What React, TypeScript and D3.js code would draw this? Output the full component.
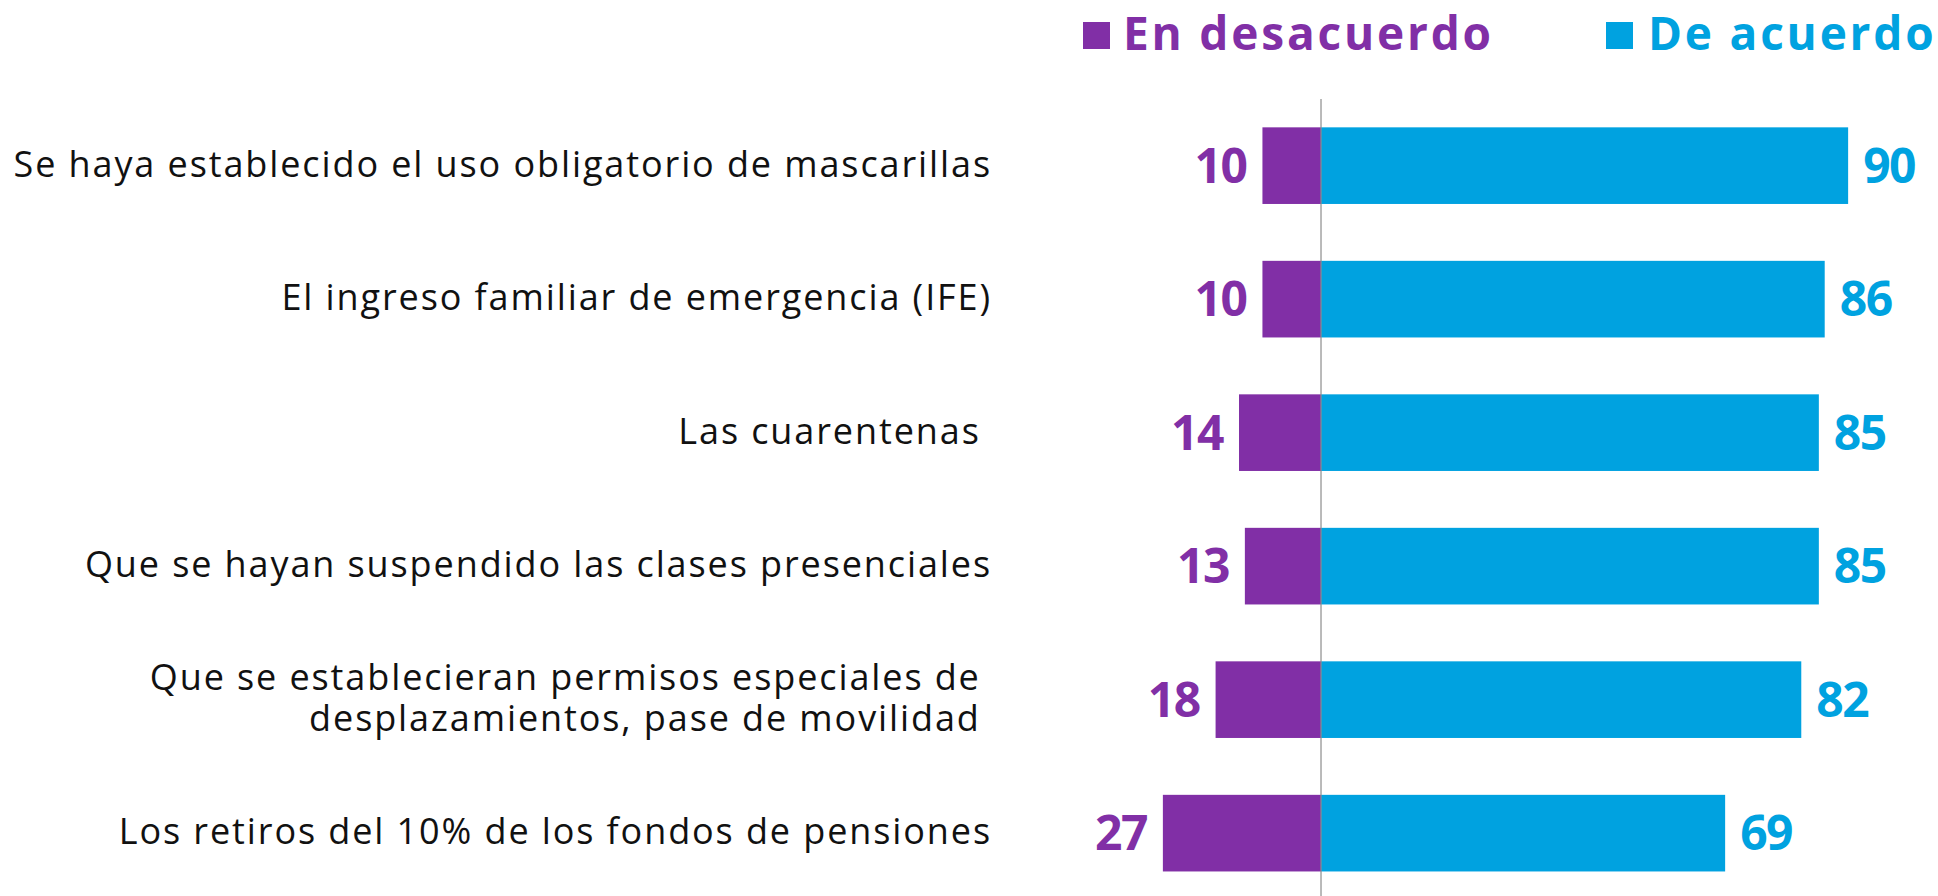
import React from "react";
import * as d3 from "d3";

const categories: string[][] = [
  ["Se haya establecido el uso obligatorio de mascarillas"],
  ["El ingreso familiar de emergencia (IFE)"],
  ["Las cuarentenas "],
  ["Que se hayan suspendido las clases presenciales"],
  ["Que se establecieran permisos especiales de ", "desplazamientos, pase de movilidad "],
  ["Los retiros del 10% de los fondos de pensiones"],
];
const desacuerdo: number[] = [10, 10, 14, 13, 18, 27];
const acuerdo: number[] = [90, 86, 85, 85, 82, 69];
const seriesNames: string[] = ["En desacuerdo", "De acuerdo"];

const PURPLE = "#812FA6";
const BLUE = "#00A2E0";
const FONT = "'Open Sans', sans-serif";

export default function App() {
  const W = 1938;
  const H = 896;
  const keys = categories.map((_, i) => String(i));
  const x = d3.scaleLinear().domain([-30, 100]).range([1145.3, 1906.7]);
  const y = d3
    .scaleBand<string>()
    .domain(keys)
    .range([98.9, 899.9])
    .paddingInner(0.426)
    .paddingOuter(0.213);
  const bw = y.bandwidth();
  const labelX = 992;

  return (
    <svg
      width={W}
      height={H}
      style={{ position: "absolute", left: 0, top: 0, background: "#fff" }}
    >
      {/* legend */}
      <g fontFamily={FONT} fontWeight={700} fontSize={46} letterSpacing={2.8}>
        <rect x={1083} y={22} width={27} height={27} fill={PURPLE} />
        <text x={1123} y={50} fill={PURPLE}>{seriesNames[0]}</text>
        <rect x={1606} y={22} width={27} height={27} fill={BLUE} />
        <text x={1648} y={50} fill={BLUE}>{seriesNames[1]}</text>
      </g>

      {keys.map((k, i) => {
        const y0 = y(k) as number;
        const cy = y0 + bw / 2;
        const lines = categories[i];
        return (
          <g key={k}>
            <rect x={x(-desacuerdo[i])} y={y0} width={x(0) - x(-desacuerdo[i])} height={bw} fill={PURPLE} />
            <rect x={x(0)} y={y0} width={x(acuerdo[i]) - x(0)} height={bw} fill={BLUE} />
            <text
              x={x(-desacuerdo[i]) - 16}
              y={cy}
              dy="0.36em"
              textAnchor="end"
              fontFamily={FONT}
              fontWeight={700}
              fontSize={48}
              fill={PURPLE}
              letterSpacing={-1.5}
            >
              {desacuerdo[i]}
            </text>
            <text
              x={x(acuerdo[i]) + 15}
              y={cy}
              dy="0.36em"
              textAnchor="start"
              fontFamily={FONT}
              fontWeight={700}
              fontSize={48}
              fill={BLUE}
              letterSpacing={-1.5}
            >
              {acuerdo[i]}
            </text>
            {lines.map((t, j) => (
              <text
                key={j}
                x={labelX}
                y={cy - 2 + (j - (lines.length - 1) / 2) * 41}
                dy="0.36em"
                textAnchor="end"
                fontFamily={FONT}
                fontSize={36}
                letterSpacing={1.9}
                fill="#111"
                style={{ whiteSpace: "pre" }}
              >
                {t}
              </text>
            ))}
          </g>
        );
      })}

      <line x1={x(0)} x2={x(0)} y1={99} y2={896} stroke="#8c8c8c" strokeWidth={1.2} />
    </svg>
  );
}
